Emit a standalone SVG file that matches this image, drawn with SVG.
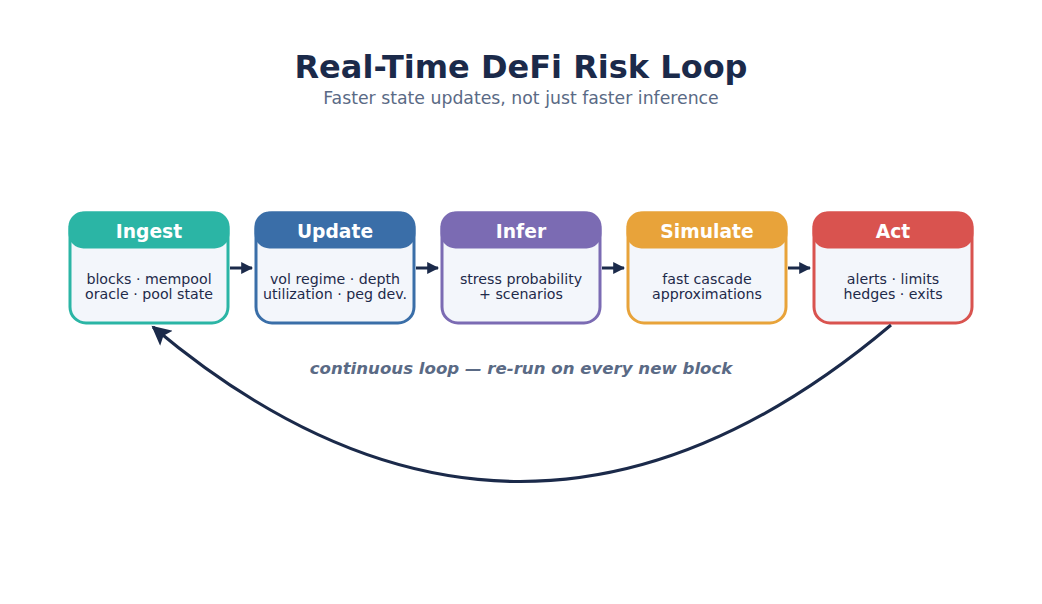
<svg xmlns="http://www.w3.org/2000/svg" width="1042" height="604" viewBox="0 0 1042 604">
<defs>
<style>
.title{font-family:"DejaVu Sans",sans-serif;font-weight:bold;font-size:32px;fill:#1b2a4a;text-anchor:middle}
.sub{font-family:"DejaVu Sans",sans-serif;font-size:17.3px;fill:#5a6a85;text-anchor:middle}
.hdr{font-family:"DejaVu Sans",sans-serif;font-weight:bold;font-size:18.7px;fill:#ffffff;text-anchor:middle}
.body{font-family:"DejaVu Sans",sans-serif;font-size:14.2px;fill:#1e2a4a;text-anchor:middle}
.note{font-family:"DejaVu Sans",sans-serif;font-weight:bold;font-style:italic;font-size:16.6px;fill:#5a6a85;text-anchor:middle}
.box{fill:#f3f6fb;stroke-width:3}
.conn{fill:none;stroke:#1b2a4a;stroke-width:3}
</style>
<marker id="ah" viewBox="0 0 10 10" refX="9" refY="5" markerWidth="4" markerHeight="4" orient="auto" markerUnits="strokeWidth">
<path d="M0,0 L10,5 L0,10 z" fill="#1b2a4a"/>
</marker>
<marker id="ahl" viewBox="0 0 10 10" refX="9" refY="5" markerWidth="7" markerHeight="6.5" orient="auto" markerUnits="strokeWidth">
<path d="M0,0 L10,5 L0,10 L2,5 z" fill="#1b2a4a"/>
</marker>
</defs>
<rect width="1042" height="604" fill="#ffffff"/>
<text class="title" x="521" y="78">Real-Time DeFi Risk Loop</text>
<text class="sub" x="521" y="104">Faster state updates, not just faster inference</text>

<g id="node-ingest">
<rect class="box" x="70" y="213" width="158" height="110" rx="16" stroke="#2bb5a5"/>
<rect x="68.5" y="211.5" width="161" height="37" rx="15" fill="#2bb5a5"/>
<text class="hdr" x="149" y="238">Ingest</text>
<text class="body" x="149" y="284">blocks · mempool</text>
<text class="body" x="149" y="299">oracle · pool state</text>
</g>
<g id="node-update">
<rect class="box" x="256" y="213" width="158" height="110" rx="16" stroke="#3a6ea8"/>
<rect x="254.5" y="211.5" width="161" height="37" rx="15" fill="#3a6ea8"/>
<text class="hdr" x="335" y="238">Update</text>
<text class="body" x="335" y="284">vol regime · depth</text>
<text class="body" x="335" y="299">utilization · peg dev.</text>
</g>
<g id="node-infer">
<rect class="box" x="442" y="213" width="158" height="110" rx="16" stroke="#7b6bb3"/>
<rect x="440.5" y="211.5" width="161" height="37" rx="15" fill="#7b6bb3"/>
<text class="hdr" x="521" y="238">Infer</text>
<text class="body" x="521" y="284">stress probability</text>
<text class="body" x="521" y="299">+ scenarios</text>
</g>
<g id="node-simulate">
<rect class="box" x="628" y="213" width="158" height="110" rx="16" stroke="#e8a33a"/>
<rect x="626.5" y="211.5" width="161" height="37" rx="15" fill="#e8a33a"/>
<text class="hdr" x="707" y="238">Simulate</text>
<text class="body" x="707" y="284">fast cascade</text>
<text class="body" x="707" y="299">approximations</text>
</g>
<g id="node-act">
<rect class="box" x="814" y="213" width="158" height="110" rx="16" stroke="#d9534f"/>
<rect x="812.5" y="211.5" width="161" height="37" rx="15" fill="#d9534f"/>
<text class="hdr" x="893" y="238">Act</text>
<text class="body" x="893" y="284">alerts · limits</text>
<text class="body" x="893" y="299">hedges · exits</text>
</g>

<g id="connectors">
<line class="conn" x1="230" y1="268" x2="252" y2="268" marker-end="url(#ah)"/>
<line class="conn" x1="416" y1="268" x2="438" y2="268" marker-end="url(#ah)"/>
<line class="conn" x1="602" y1="268" x2="624" y2="268" marker-end="url(#ah)"/>
<line class="conn" x1="788" y1="268" x2="810" y2="268" marker-end="url(#ah)"/>
<path class="conn" d="M891,325 Q521,637 153,327" marker-end="url(#ahl)"/>
</g>
<text class="note" x="521" y="374">continuous loop — re-run on every new block</text>
</svg>
